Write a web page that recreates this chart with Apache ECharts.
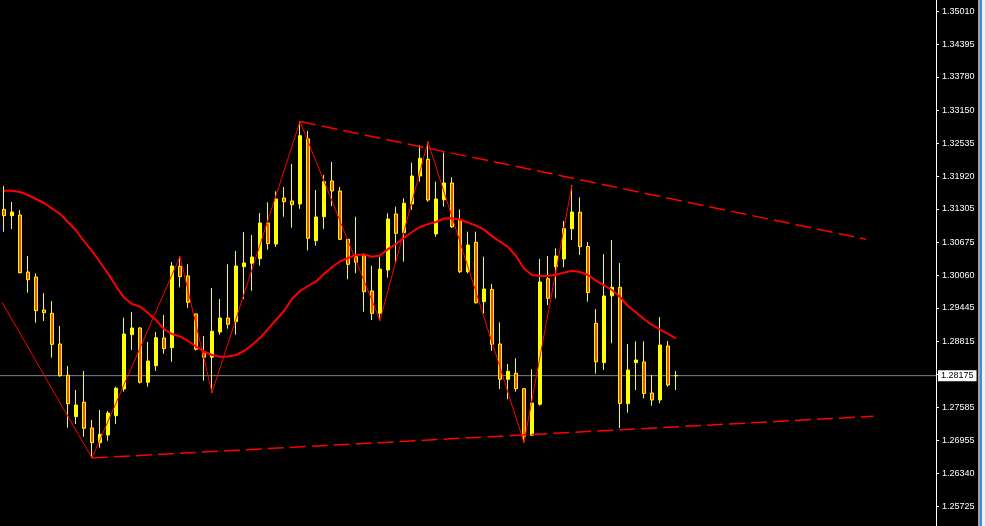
<!DOCTYPE html>
<html>
<head>
<meta charset="utf-8">
<script src="https://cdn.jsdelivr.net/npm/echarts@6/dist/echarts.min.js"></script>
<style>
html,body{margin:0;padding:0;background:#000;}
#chart{width:985px;height:526px;}
</style>
</head>
<body>
<div id="chart"></div>
<script>
// ---- data ----
// candles: [open, close, low, high]
const candles = [
[1.31295,1.31176,1.30876,1.31733],[1.31176,1.31245,1.30926,1.31433],[1.31189,1.30107,1.30092,1.31283],
[1.30120,1.29975,1.29732,1.30420],[1.30026,1.29394,1.29168,1.30095],[1.29407,1.29356,1.29201,1.29726],
[1.29345,1.28763,1.28512,1.29576],[1.28769,1.28175,1.28156,1.29107],[1.28183,1.27649,1.27199,1.28357],
[1.27406,1.27625,1.27269,1.27906],[1.27676,1.27188,1.27030,1.28263],[1.27194,1.26918,1.26631,1.27344],
[1.26918,1.27075,1.26824,1.27531],[1.27062,1.27475,1.26955,1.27513],[1.27424,1.27938,1.27269,1.27968],
[1.27925,1.28957,1.27875,1.29263],[1.28944,1.29069,1.28657,1.29370],[1.29069,1.28051,1.28029,1.29088],
[1.28051,1.28450,1.27968,1.28807],[1.28362,1.28887,1.28263,1.28994],[1.28882,1.28681,1.28587,1.29313],
[1.28700,1.30232,1.28435,1.30307],[1.30227,1.30032,1.29833,1.30411],[1.30045,1.29552,1.29445,1.30264],
[1.29332,1.28670,1.28647,1.29341],[1.28625,1.28520,1.28081,1.28919],[1.28520,1.29008,1.27856,1.29820],
[1.28994,1.29257,1.28944,1.29613],[1.29257,1.29139,1.29056,1.30264],[1.29188,1.30232,1.28944,1.30514],
[1.30219,1.30289,1.29613,1.30870],[1.30283,1.30401,1.29767,1.30814],[1.30369,1.31039,1.30238,1.31227],
[1.31039,1.30651,1.30538,1.31427],[1.30645,1.31489,1.30589,1.31634],[1.31508,1.31438,1.31157,1.31714],
[1.31452,1.31382,1.30951,1.32146],[1.31395,1.32677,1.31307,1.32943],[1.32615,1.30752,1.30527,1.32765],
[1.30707,1.31152,1.30613,1.31658],[1.31157,1.31814,1.30930,1.31939],[1.31827,1.31639,1.31358,1.32183],
[1.31639,1.30733,1.30720,1.31714],[1.30733,1.30264,1.29983,1.30739],[1.30407,1.30302,1.30095,1.31157],
[1.30439,1.29750,1.29375,1.30471],[1.29763,1.29345,1.29219,1.30238],[1.29345,1.30174,1.29210,1.30407],
[1.30157,1.31114,1.30013,1.31221],[1.31208,1.30846,1.30283,1.31345],[1.30857,1.31409,1.30313,1.31502],
[1.31395,1.31921,1.31283,1.32170],[1.31921,1.32253,1.31814,1.32502],[1.32234,1.31470,1.31438,1.32564],
[1.30833,1.31489,1.30782,1.31814],[1.31476,1.31789,1.31345,1.32358],[1.31789,1.30970,1.30945,1.31896],
[1.31105,1.30125,1.30101,1.31295],[1.30125,1.30626,1.30095,1.30876],[1.30677,1.29542,1.29531,1.30876],
[1.29563,1.29801,1.29345,1.30407],[1.29793,1.28763,1.28642,1.29893],[1.28769,1.28107,1.27925,1.29176],
[1.28107,1.28257,1.27732,1.28394],[1.28220,1.27931,1.27875,1.28501],[1.27931,1.27030,1.26918,1.27931],
[1.27057,1.27663,1.27043,1.28295],[1.27638,1.29932,1.27612,1.30364],[1.29994,1.29626,1.29501,1.30420],
[1.30219,1.30420,1.29626,1.30564],[1.30364,1.30936,1.30208,1.31077],[1.30932,1.31245,1.30720,1.31752],
[1.31242,1.30594,1.30439,1.31517],[1.30598,1.29735,1.29563,1.30683],[1.29157,1.28435,1.28212,1.29426],
[1.28419,1.29670,1.28281,1.30456],[1.29673,1.29833,1.28782,1.30720],[1.29833,1.27653,1.27194,1.30289],
[1.27649,1.28281,1.27481,1.28769],[1.28419,1.28469,1.27906,1.28818],[1.28432,1.27841,1.27747,1.28818],
[1.27850,1.27719,1.27612,1.28188],[1.27719,1.28750,1.27657,1.29276],[1.28732,1.28000,1.27968,1.28826],
[1.28175,1.28175,1.27906,1.28263]
];
const maValues = [
1.31645,1.31645,1.31621,1.31564,1.31489,1.31414,1.31311,1.31208,1.31058,1.30898,
1.30701,1.30514,1.30307,1.30092,1.29857,1.29640,1.29518,1.29471,1.29351,1.29219,
1.29049,1.28957,1.28910,1.28826,1.28722,1.28629,1.28563,1.28531,1.28535,1.28563,
1.28638,1.28750,1.28882,1.29049,1.29219,1.29388,1.29613,1.29763,1.29857,1.29942,
1.30082,1.30214,1.30317,1.30382,1.30439,1.30448,1.30407,1.30429,1.30549,1.30645,
1.30758,1.30870,1.30964,1.31018,1.31058,1.31123,1.31127,1.31105,1.31048,1.30990,
1.30915,1.30793,1.30690,1.30589,1.30420,1.30186,1.30064,1.30045,1.30045,1.30071,
1.30108,1.30142,1.30120,1.30064,1.29958,1.29867,1.29782,1.29651,1.29482,1.29360,
1.29238,1.29126,1.29041,1.28957,1.28876
];
// zigzag vertices: [bar index, price] (first point is where the leg enters the chart's left edge)
const zigzag = [[-0.25,1.29551],[11,1.26631],[22,1.30411],[26,1.27856],[37,1.32943],[47,1.29210],[53,1.32564],[65,1.26918],[71,1.31752]];
// trend lines: [bar index, price]
const upperTrend = [[37,1.32943],[107.77,1.30733]];
const lowerTrend = [[11,1.26631],[108.68,1.27413]];
const currentPrice = 1.28175;
const tickValues = [1.35010,1.34395,1.33780,1.33150,1.32535,1.31920,1.31305,1.30675,1.30060,1.29445,1.28815,1.28200,1.27585,1.26955,1.26340,1.25725];
const labelValues = [1.35010,1.34395,1.33780,1.33150,1.32535,1.31920,1.31305,1.30675,1.30060,1.29445,1.28815,1.27585,1.26955,1.26340,1.25725];
const slotCount = 117;
const slots = Array.from({length: slotCount}, (_, i) => String(i));
const priceMin = 1.25355, priceMax = 1.35222;

// ---- chart ----
const chart = echarts.init(document.getElementById('chart'));
const FONT = 'Liberation Sans';
chart.setOption({
  backgroundColor: '#000',
  animation: false,
  grid: {left: -2, right: 49, top: 0, bottom: 0, containLabel: false},
  xAxis: [
    {type: 'category', data: slots, boundaryGap: true, show: false},
    {type: 'value', min: -0.5, max: slotCount - 0.5, show: false}
  ],
  yAxis: {
    type: 'value', position: 'right', min: priceMin, max: priceMax, scale: true,
    axisLine: {show: true, onZero: false, lineStyle: {color: '#fff', width: 1}},
    axisTick: {show: true, length: 3, lineStyle: {color: '#fff'}, customValues: tickValues},
    axisLabel: {show: true, color: '#fff', fontSize: 9, fontFamily: FONT, margin: 6,
      customValues: labelValues, formatter: v => v.toFixed(5)},
    splitLine: {show: false}
  },
  series: [
    {
      type: 'line', xAxisIndex: 1, data: [[-0.5, currentPrice], [slotCount - 0.5, currentPrice]],
      showSymbol: false, symbol: 'none', silent: true, clip: false,
      lineStyle: {color: '#778899', width: 1}, z: 1,
      endLabel: {show: true, distance: 2, formatter: () => currentPrice.toFixed(5),
        backgroundColor: '#fff', color: '#000', fontSize: 9, fontFamily: FONT,
        padding: [1, 3, 1, 3], lineHeight: 9}
    },
    {
      type: 'candlestick', xAxisIndex: 0, data: candles, barWidth: 4, z: 2,
      itemStyle: {color: '#ffff00', color0: '#ff4500', borderColor: '#ffff00', borderColor0: '#ffff00', borderWidth: 1}
    },
    {type: 'line', xAxisIndex: 0, data: maValues, showSymbol: false, symbol: 'none',
      lineStyle: {color: '#ff0000', width: 2}, z: 3},
    {type: 'line', xAxisIndex: 1, data: zigzag, showSymbol: false, symbol: 'none',
      lineStyle: {color: '#ff0000', width: 1}, z: 4},
    {type: 'line', xAxisIndex: 1, data: upperTrend, showSymbol: false, symbol: 'none',
      lineStyle: {color: '#ff0000', width: 1.5, type: [16, 6]}, z: 4},
    {type: 'line', xAxisIndex: 1, data: lowerTrend, showSymbol: false, symbol: 'none',
      lineStyle: {color: '#ff0000', width: 1.5, type: [16, 6]}, z: 4}
  ],
  graphic: [
    {type: 'rect', shape: {x: 978, y: 0, width: 2, height: 526}, style: {fill: '#a0a0a0'}, silent: true},
    {type: 'rect', shape: {x: 980, y: 0, width: 2, height: 526}, style: {fill: '#3c8ce6'}, silent: true},
    {type: 'rect', shape: {x: 982, y: 0, width: 3, height: 526}, style: {fill: '#f0f0f0'}, silent: true}
  ]
});
</script>
</body>
</html>
